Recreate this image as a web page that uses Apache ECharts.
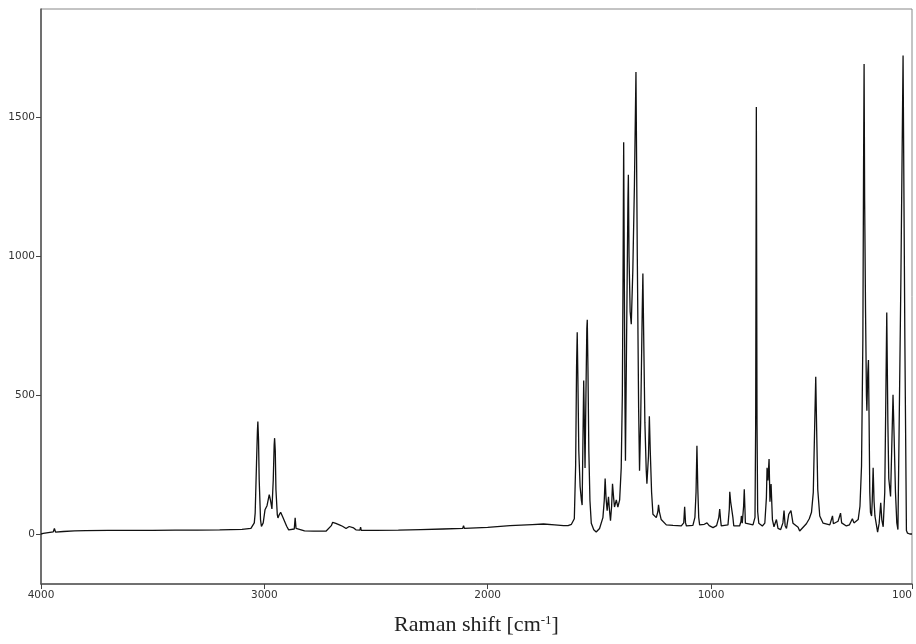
<!DOCTYPE html>
<html>
<head>
<meta charset="utf-8">
<title>Raman spectrum</title>
<script src="https://cdn.jsdelivr.net/npm/echarts@6/dist/echarts.min.js"></script>
<style>
    html, body {margin:0; padding:0; background:#fff;}
    #chart {width:916px; height:644px;}
</style>
</head>
<body>
<div id="chart"></div>
<script>

// raman shift (cm-1) and intensity
var ramanShift = [4000,3990,3960,3945,3940,3935,3900,3850,3800,3700,3600,3500,3400,3300,3200,3100,3060,3053,3045,3041,3035,3031,3029,3026,3023,3017,3013,3005,2997,2988,2984,2978,2972,2966,2960,2956,2954,2951,2948,2942,2939,2933,2927,2918,2909,2900,2891,2866,2862,2858,2856,2820,2780,2724,2700,2694,2680,2664,2650,2634,2620,2612,2600,2590,2572,2569,2566,2500,2400,2300,2200,2112,2108,2104,2000,1900,1800,1750,1700,1660,1640,1625,1619,1612,1606,1602,1599,1596,1592,1586,1580,1577,1574,1570,1567,1564,1560,1556,1554,1551,1547,1542,1536,1525,1514,1499,1484,1478,1474,1470,1465,1459,1455,1450,1445,1441,1436,1432,1424,1417,1409,1402,1397,1394,1391,1388,1385,1383,1378,1372,1370,1367,1362,1357,1350,1343,1336,1330,1324,1320,1315,1308,1305,1302,1296,1290,1287,1280,1276,1272,1266,1260,1245,1238,1235,1231,1223,1200,1170,1133,1122,1118,1114,1110,1081,1072,1067,1063,1059,1055,1051,1030,1018,1014,1008,991,975,965,961,957,954,924,918,916,912,907,902,898,872,866,864,860,854,851,848,846,812,803,800,797,794,791,786,770,759,752,749,745,740,736,731,725,718,707,700,688,678,673,668,662,652,642,633,610,603,573,560,550,542,536,531,527,522,513,498,468,460,456,452,431,420,415,409,394,380,367,360,356,341,333,326,320,317,314.5,312,308,304,302,298,295,292,289,286,281,278,274,270,266,254,247,240,235,229,222,217,213,208,204,196,191,185,180,174,168,163,150,140,132,125,120,110,100];
var intensity = [0,2,6,8,20,7,9,11,12,13,13,13,14,14,15,17,20,22,40,75,255,370,405,340,195,51,27,40,87,102,95,142,120,90,195,320,345,300,159,70,58,70,78,62,45,28,15,18,58,20,15,11,10,10,30,42,38,33,28,20,27,31,22,15,14,25,13,13,14,16,18,20,30,20,24,30,34,36,33,30,30,35,39,55,250,600,726,560,300,170,120,104,300,553,400,238,500,740,771,600,300,120,39,15,7,20,59,120,200,130,84,134,90,48,100,181,130,97,123,97,123,238,500,900,1410,900,450,264,700,1200,1293,1000,800,755,950,1250,1663,1000,450,228,400,800,938,750,400,230,181,280,424,300,150,71,59,80,105,80,52,33,31,29,40,98,40,29,31,60,150,318,160,60,33,35,40,46,30,23,30,60,90,50,29,33,90,152,116,119,60,29,29,45,65,39,100,161,90,39,33,60,400,1537,400,80,39,29,39,130,238,193,270,116,180,52,26,52,20,16,40,84,30,20,71,84,39,24,11,37,55,78,150,380,566,380,160,65,39,33,40,65,37,46,75,40,33,29,33,55,40,37,52,100,245,700,1300,1692,1200,800,500,444,580,626,400,150,78,65,120,238,120,65,7,39,112,50,26,150,500,797,400,200,135,300,501,350,150,40,16,900,1723,700,13,3,0,0];

// tick labels
var xTicks = [4000, 3000, 2000, 1000, 100];
var yTicks = [0, 500, 1000, 1500];

var spectrum = ramanShift.map(function(d, i){return [d, intensity[i]];});

var myChart = echarts.init(document.getElementById('chart'));

var option = {
    animation: false,
    backgroundColor: '#fff',
    grid: {
        left: 41,
        right: 4,
        top: 9,
        bottom: 60,
        outerBoundsMode: 'none',   //---keep grid exactly where it is put
        containLabel: false,
        show: true,
        borderColor: '#888',       //---top / right frame
        borderWidth: 1
    },
    xAxis: {
        type: 'value',
        inverse: true,
        min: 100,
        max: 4000,
        name: '{a|Raman shift [cm}{s|-1}{a|]}',
        nameLocation: 'middle',
        nameGap: 30,
        nameTextStyle: {
            rich: {
                a: {fontFamily: 'Liberation Serif', fontSize: 22, color: '#222'},
                s: {fontFamily: 'Liberation Serif', fontSize: 13, color: '#222', verticalAlign: 'top', padding: [0, 0, 10, 0]}
            }
        },
        splitLine: {show: false},
        axisLine: {show: true, onZero: false, lineStyle: {color: '#555', width: 1.5}},
        axisTick: {show: true, length: 5, inside: false, customValues: xTicks, lineStyle: {color: '#444'}},
        axisLabel: {
            customValues: xTicks,
            formatter: function(v){return String(v);},
            alignMaxLabel: 'right',   //---"100" sits at the right edge
            margin: 6,
            fontFamily: 'DejaVu Sans',
            fontSize: 10.5,
            color: '#333'
        }
    },
    yAxis: {
        type: 'value',
        min: -180,
        max: 1890,
        splitLine: {show: false},
        axisLine: {show: true, onZero: false, lineStyle: {color: '#555', width: 1.5}},
        axisTick: {show: true, length: 5, inside: false, customValues: yTicks, lineStyle: {color: '#444'}},
        axisLabel: {
            customValues: yTicks,
            formatter: function(v){return String(v);},
            margin: 6,
            fontFamily: 'DejaVu Sans',
            fontSize: 10.5,
            color: '#333'
        }
    },
    series: [
        {
            type: 'line',
            data: spectrum,
            showSymbol: false,
            symbol: 'none',
            clip: true,
            lineStyle: {color: '#111', width: 1.3}
        }
    ]
};

myChart.setOption(option);

window.addEventListener("resize", function(){
    myChart.resize();
});
</script>
</body>
</html>
